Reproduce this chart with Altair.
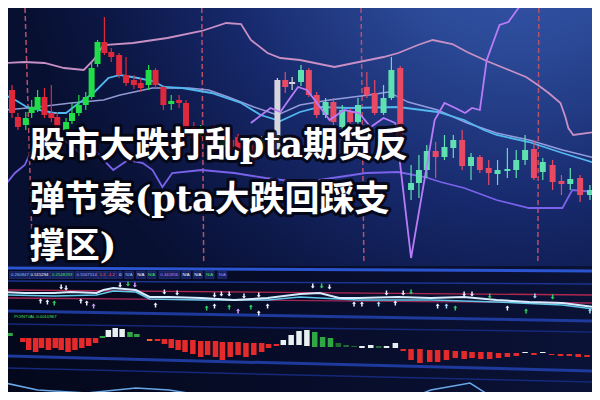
import altair as alt
import pandas as pd

W, H = 584, 384
XS = alt.Scale(domain=[8, 592], nice=False, zero=False)
YS = alt.Scale(domain=[8, 392], nice=False, zero=False, reverse=True)

def X(f="t"):
    return alt.X(f"{f}:Q", scale=XS, axis=None)

def Y(f="y"):
    return alt.Y(f"{f}:Q", scale=YS, axis=None)

# ---------------- candles (time position, levels; screen-level units) ----
candle_t = [7, 13, 21, 27, 33, 40, 47, 53, 62, 68,
            75, 82, 88, 94, 101, 108, 116, 123, 131, 138,
            146, 153, 161, 169, 177, 184, 192, 199, 206, 213,
            222, 230, 237, 245, 253, 261, 269, 277, 285, 292,
            301, 309, 317, 326, 334, 343, 351, 359, 368, 376,
            385, 393, 402, 413, 421, 429, 438, 447, 456, 465,
            474, 483, 492, 501, 511, 520, 529, 538, 547, 557,
            566, 575, 585, 595]
candle_kind = list("rrgggrrrgg" "ggggrrrrrr" "grrgrrrgrr" "grrgrgrwRw"
                   "GRRGRGRGRR" "GGRGGGRGGR" "GRRGGGGRGR" "RGRG")
body_hi = [90, 117, 118, 107, 97, 97, 113, 117, 122, 113,
           105, 97, 68, 42, 42, 52, 55, 75, 80, 83,
           70, 70, 87, 101, 100, 103, 127, 128, 132, 128,
           140, 140, 137, 145, 145, 140, 142, 80, 80, 82,
           70, 70, 95, 102, 102, 110, 112, 105, 87, 93,
           98, 70, 68, 183, 170, 151, 151, 147, 140, 140,
           157, 157, 168, 170, 169, 160, 150, 149, 162, 165,
           181, 179, 178, 190]
body_lo = [113, 127, 125, 113, 110, 115, 118, 130, 130, 121,
           113, 105, 97, 64, 53, 57, 75, 83, 85, 88,
           85, 85, 105, 104, 103, 128, 138, 134, 142, 150,
           147, 150, 152, 152, 160, 150, 155, 150, 87, 84,
           82, 95, 115, 115, 122, 127, 122, 122, 95, 113,
           113, 98, 138, 190, 183, 170, 157, 157, 148, 166,
           166, 170, 173, 174, 171, 170, 160, 178, 172, 182,
           184, 184, 195, 195]
wick_hi = [85, 113, 112, 100, 90, 88, 85, 112, 118, 103,
           95, 92, 62, 40, 17, 48, 53, 57, 75, 78,
           65, 68, 85, 95, 95, 100, 122, 125, 128, 125,
           136, 137, 134, 141, 142, 136, 139, 78, 72, 77,
           65, 68, 92, 98, 98, 105, 108, 98, 72, 80,
           85, 57, 66, 165, 155, 145, 142, 135, 135, 130,
           153, 155, 160, 160, 148, 150, 135, 140, 158, 160,
           175, 168, 175, 185]
wick_lo = [118, 130, 130, 118, 112, 118, 122, 133, 133, 124,
           116, 110, 99, 67, 55, 62, 78, 86, 89, 92,
           90, 88, 110, 110, 108, 131, 140, 137, 146, 152,
           150, 153, 155, 156, 163, 153, 158, 153, 93, 90,
           86, 97, 118, 118, 125, 130, 125, 125, 98, 115,
           115, 100, 147, 200, 198, 178, 178, 160, 158, 170,
           180, 173, 185, 185, 178, 178, 165, 180, 180, 190,
           195, 190, 202, 200]

# ---------------- overlay lines of the price panel ----------------
upper_t = [0, 20, 40, 60, 80, 90, 100, 130, 165, 200, 225, 240, 250, 267, 280, 300, 320, 335,
           360, 385, 400, 420, 435, 455, 470, 490, 510, 530, 542, 553, 565, 570, 573, 578, 600]
upper_y = [63, 62, 63, 68, 70, 60, 45, 43, 38, 31, 23, 24, 40, 53, 58, 60, 64, 67,
           62, 57, 53, 45, 40, 44, 52, 61, 69, 77, 85, 93, 103, 117, 128, 135, 132]
mid_t = [0, 12, 22, 35, 50, 62, 75, 90, 105, 117, 135, 150, 162, 180, 210, 240, 260, 280,
         300, 320, 350, 400, 440, 467, 487, 500, 533, 567, 600]
mid_y = [95, 101, 107, 110, 113, 113, 103, 93, 78, 75, 78, 81, 87, 88, 93, 103, 115, 121,
         112, 107, 108, 107, 112, 120, 130, 135, 142, 153, 163]
lav_t = [0, 33, 67, 100, 117, 150, 187, 207, 227, 253, 277, 300, 330, 370, 390, 410, 440,
         470, 500, 533, 567, 600]
lav_y = [110, 107, 103, 100, 95, 88, 88, 90, 97, 107, 115, 105, 100, 95, 92, 102, 110,
         123, 133, 140, 150, 158]
low_t = [0, 10, 20, 30, 60, 75, 82, 90, 100, 110, 125, 140, 150, 160, 170, 200, 233, 265,
         290, 300, 333, 367, 400, 427, 443, 467, 500, 533, 567, 577, 600]
low_y = [185, 173, 165, 143, 140, 152, 160, 148, 160, 170, 160, 163, 170, 187, 173, 170, 173, 178,
         181, 183, 178, 173, 172, 177, 182, 188, 200, 208, 208, 190, 192]
zig_t = [250, 270, 280, 290, 298, 307, 315, 330, 345, 360, 372, 385, 397, 413, 437, 447, 458,
         468, 475, 483, 490, 503, 512, 523, 530, 548]
zig_y = [123, 108, 112, 98, 87, 90, 100, 120, 110, 113, 127, 118, 123, 258, 120, 103, 108,
         113, 108, 110, 60, 25, 22, 7, 5, -5]
dash_t = [20, 200, 362, 543]
dash_t2 = [28, 202, 365, 542]

# ---------------- signal panel ----------------
sig_t = [0, 20, 50, 67, 93, 100, 110, 133, 147, 167, 200, 233, 267, 300, 320, 340, 360, 400,
         433, 467, 500, 533, 567, 600]
sig_y = [292, 293, 293, 292, 293, 290, 288, 290, 297, 297, 298, 300, 298, 294, 293, 298, 298, 297,
         298, 297, 300, 302, 303, 307]
sig2_t = [0, 50, 93, 110, 133, 147, 200, 267, 300, 360, 433, 500, 567, 600]
sig2_y = [295, 296, 295, 291, 292, 299, 300, 300, 297, 300, 300, 302, 305, 309]
up_t = [36, 43, 50, 77, 83, 90, 153, 205, 213, 228, 237, 250, 258, 267, 355, 363, 380, 397,
        440, 449, 458, 511, 530, 595]
up_y = [301, 302, 303, 301, 303, 306, 305, 308, 306, 307, 311, 307, 313, 306, 304, 304, 304, 303,
        306, 306, 308, 308, 311, 311]
up_kind = list("wwgwwvwgwgvgwwwwbwwbgwgb")
dn_t = [57, 62, 117, 125, 132, 162, 175, 213, 220, 228, 243, 258, 313, 322, 330, 388, 405, 413,
        467, 475, 493, 539, 557]
dn_y = [287, 288, 285, 284, 285, 292, 293, 295, 294, 294, 296, 295, 286, 286, 287, 293, 293, 292,
        294, 294, 296, 296, 297]
dn_kind = list("wwwgvwwwwwwwwgwwwgwwgbg")

# ---------------- histogram panel ----------------
macd_t = [5, 18, 24, 31, 37, 44, 51, 57, 64, 71, 78, 85, 92, 99, 105, 112, 119, 127, 134, 147,
          155, 162, 169, 176, 183, 191, 199, 206, 214, 221, 229, 237, 245, 253, 261, 268, 276,
          283, 291, 299, 307, 315, 323, 331, 339, 347, 355, 363, 372, 380, 388, 397,
          405, 413, 422, 432, 440, 449, 458, 467, 475, 484, 493, 502, 511, 520,
          529, 538, 547, 556, 565, 574, 583, 592]
macd_hi = [333, 338, 338, 338, 338, 338, 338, 338, 338, 338, 338, 338, 338, 336, 330, 328, 329, 332, 334, 339,
           339, 339, 339, 340, 340, 340, 341, 341, 341, 342, 342, 342, 343, 343, 343, 344, 344,
           340, 335, 331, 330, 332, 337, 338, 343, 345, 346, 346, 345, 346, 346, 343,
           349, 349, 349, 350, 350, 350, 351, 351, 352, 352, 352, 353, 353, 353,
           352, 353, 352, 354, 354, 354, 354, 355]
macd_lo = [336, 342, 350, 352, 348, 350, 348, 350, 352, 350, 348, 346, 343, 338, 337, 337, 337, 337, 337, 341,
           341, 344, 348, 350, 352, 354, 357, 355, 357, 360, 357, 355, 357, 355, 352, 348, 346,
           345, 345, 345, 346, 347, 347, 347, 347, 347, 347, 348, 348, 348, 348, 348,
           351, 360, 363, 362, 362, 360, 358, 359, 358, 359, 359, 358, 357, 356,
           353, 355, 353, 355, 356, 356, 357, 357]
macd_kind = (["g"] + ["r"] * 12 + ["g", "w", "w", "w", "g", "g", "o"] + ["r"] * 17 +
             ["w"] * 4 + ["g"] * 3 + ["G"] * 3 + ["w", "w", "G", "w", "w"] + ["r"] * 14 +
             ["w", "r", "w"] + ["r"] * 5)

curve1_t = [0, 33, 83, 133, 167, 217]
curve1_y = [383, 390, 393, 388, 390, 398]
curve2_t = [408, 433, 473, 500]
curve2_y = [400, 390, 383, 400]

label_t = [15, 35, 58, 83, 99, 108, 117, 126, 138, 149, 167, 184, 196, 208, 221]
label_txt = ["0.260847", "0.515294", "0.2548293", "0.5567514", "1.2", "-1.2", "0", "N/A", "N/A",
             "N/A", "0.441856", "N/A", "N/A", "N/A", "N/A"]
label_col = ["#7ec8ff", "#ffffff", "#40e060", "#b0b0ff", "#ff5a5a", "#ff5a5a", "#ffffff", "#80c0ff",
             "#ffffff", "#40e060", "#b888ff", "#ffffff", "#ffffff", "#40e060", "#a888ff"]
label2_t = [20, 42]
label2_txt = ["POINTVAL", "0.0010967"]

title_lines = ["股市大跌打乱pta期货反", "弹节奏(pta大跌回踩支", "撑区)"]
title_y = [146, 200, 247]

# ======================= build =======================
one = pd.DataFrame({"a": [0]})

bg_grad = alt.RadialGradient(
    gradient="radial", x1=0.87, y1=0.0, r1=0, x2=0.87, y2=0.0, r2=0.85,
    stops=[alt.GradientStop(offset=0, color="#3a5db2"),
           alt.GradientStop(offset=0.3, color="#2a4895"),
           alt.GradientStop(offset=0.6, color="#17296c"),
           alt.GradientStop(offset=0.85, color="#0c1745"),
           alt.GradientStop(offset=1, color="#081032")])
bg = alt.Chart(one).mark_rect(fill=bg_grad, strokeWidth=0).encode(
    x=alt.value(0), x2=alt.value(W), y=alt.value(0), y2=alt.value(H))

low_grad = alt.LinearGradient(
    gradient="linear", x1=0, y1=0, x2=1, y2=0,
    stops=[alt.GradientStop(offset=0, color="#04081c"),
           alt.GradientStop(offset=1, color="#0a1236")])
low_bg = alt.Chart(pd.DataFrame({"t": [0], "t2": [600], "y": [266], "y2": [400]})).mark_rect(
    fill=low_grad, strokeWidth=0, clip=True).encode(x=X(), x2="t2:Q", y=Y(), y2="y2:Q")


def line(ts, ys, color, width, opacity=1.0):
    df = pd.DataFrame({"t": ts, "y": ys})
    return alt.Chart(df).mark_line(color=color, strokeWidth=width, opacity=opacity,
                                   clip=True, interpolate="linear").encode(x=X(), y=Y())


sep_df = pd.DataFrame({
    "t": [0] * 6, "t2": [600] * 6,
    "y": [268, 281, 311, 324, 356, 368], "y2": [271, 284, 321, 332, 371, 382],
    "w": [3, 1.5, 3, 1.5, 3, 1.5],
    "c": ["#2b55d0", "#1c3390", "#1d3a9c", "#16287a", "#1d3a9c", "#16287a"]})
seps = alt.Chart(sep_df).mark_rule(clip=True).encode(
    x=X(), x2="t2:Q", y=Y(), y2="y2:Q",
    color=alt.Color("c:N", scale=None), strokeWidth=alt.StrokeWidth("w:Q", scale=None))

dash_df = pd.DataFrame({"t": dash_t, "t2": dash_t2, "y": [0] * 4, "y2": [262] * 4})
dashes = alt.Chart(dash_df).mark_rule(color="#b8506e", strokeWidth=1.5, strokeDash=[5, 3],
                                      clip=True).encode(x=X(), x2="t2:Q", y=Y(), y2="y2:Q")

ccol = {"r": "#e0283c", "g": "#22dd4a", "w": "#d6d6dc", "R": "#e84a64", "G": "#5ee0b0"}
cdf = pd.DataFrame({"t": candle_t, "bh": body_hi, "bl": body_lo, "wh": wick_hi, "wl": wick_lo,
                    "c": [ccol[k] for k in candle_kind]})
wicks = alt.Chart(cdf).mark_rule(strokeWidth=1.2, clip=True).encode(
    x=X(), y=Y("wh"), y2="wl:Q", color=alt.Color("c:N", scale=None))
bodies = alt.Chart(cdf).mark_bar(size=6, clip=True, orient="vertical").encode(
    x=X(), y=Y("bh"), y2="bl:Q", color=alt.Color("c:N", scale=None))

mcol = {"r": "#e42a2a", "g": "#2fa844", "w": "#e8f0f0", "G": "#1e6a30", "o": "#f06030"}
mdf = pd.DataFrame({"t": macd_t, "hi": macd_hi, "lo": macd_lo,
                    "c": [mcol[k] for k in macd_kind]})
macd = alt.Chart(mdf).mark_bar(size=5.5, clip=True, orient="vertical").encode(
    x=X(), y=Y("hi"), y2="lo:Q", color=alt.Color("c:N", scale=None))

acol = {"w": "#f0f2ff", "g": "#30d060", "v": "#c8a0f8", "b": "#a8dcff"}
arrow_path = "M-0.14,0.5L0.14,0.5L0.14,-0.05L0.38,-0.05L0,-0.5L-0.38,-0.05L-0.14,-0.05Z"
adf = pd.DataFrame({
    "t": up_t + dn_t, "y": up_y + dn_y,
    "a": [0] * len(up_t) + [180] * len(dn_t),
    "c": [acol[k] for k in up_kind] + [acol[k] for k in dn_kind]})
arrows = alt.Chart(adf).mark_point(shape=arrow_path, filled=True, size=110, opacity=1,
                                   clip=True).encode(
    x=X(), y=Y(), color=alt.Color("c:N", scale=None), angle=alt.Angle("a:Q", scale=None))

curves = alt.Chart(pd.DataFrame({
    "t": curve1_t + curve2_t, "y": curve1_y + curve2_y,
    "s": ["a"] * len(curve1_t) + ["b"] * len(curve2_t)})).mark_line(
    color="#6aa8e8", strokeWidth=1.5, clip=True).encode(x=X(), y=Y(), detail="s:N")

ldf = pd.DataFrame({"t": label_t, "txt": label_txt, "c": label_col})
ldf["x1"] = ldf["t"] - ldf["txt"].str.len() * 1.2 - 1
ldf["x2"] = ldf["t"] + ldf["txt"].str.len() * 1.2 + 1
ldf["y1"] = 271.5
ldf["y2"] = 278.5
ldf["y"] = 275
label_box = alt.Chart(ldf).mark_rect(fill="#16205e", stroke="#2c3a90", strokeWidth=0.5,
                                     clip=True).encode(x=X("x1"), x2="x2:Q", y=Y("y1"), y2="y2:Q")
labels = alt.Chart(ldf).mark_text(fontSize=4.3, font="Liberation Sans", baseline="middle",
                                  align="center", clip=True).encode(
    x=X(), y=Y(), text="txt:N", color=alt.Color("c:N", scale=None))
l2df = pd.DataFrame({"t": label2_t, "txt": label2_txt, "y": [317, 317]})
labels2 = alt.Chart(l2df).mark_text(fontSize=4.3, font="Liberation Sans", baseline="middle",
                                    align="center", color="#40e060", clip=True).encode(
    x=X(), y=Y(), text="txt:N")

tdf = pd.DataFrame({"txt": title_lines, "t": [25, 25, 25], "y": title_y})
tfont = "DejaVu Serif, Noto Sans CJK SC"
title_shadow = alt.Chart(tdf).mark_text(
    font=tfont, fontSize=35, fontWeight="bold", align="left", baseline="middle",
    fill="#05050f", stroke="#05050f", strokeWidth=6, strokeJoin="round", opacity=0.85).encode(
    x=X(), y=Y(), text="txt:N")
title = alt.Chart(tdf).mark_text(
    font=tfont, fontSize=35, fontWeight="bold", align="left", baseline="middle",
    fill="#ffffff").encode(x=X(), y=Y(), text="txt:N")

chart = alt.layer(
    bg, low_bg, seps, dashes,
    line(upper_t, upper_y, "#c890c4", 1.8),
    line(lav_t, lav_y, "#a8b0ee", 1.4, 0.85),
    line(mid_t, mid_y, "#52b8f0", 1.8),
    line(low_t, low_y, "#7a62ea", 1.8),
    wicks, bodies,
    line(zig_t, zig_y, "#b97cf8", 1.8),
    line([0, 600], [290, 295], "#b02850", 1.3),
    line([0, 600], [298, 303], "#a02858", 1.3),
    line(sig2_t, sig2_y, "#60c8e8", 1.5),
    line(sig_t, sig_y, "#d8ecff", 2),
    arrows, macd, curves,
    label_box, labels, labels2,
    title_shadow, title,
).properties(
    width=W, height=H, padding=0,
    autosize=alt.AutoSizeParams(type="none"),
    background="#060c28",
).configure_view(stroke=None)

chart.save("out.html", embed_options={"renderer": "svg", "actions": False})
